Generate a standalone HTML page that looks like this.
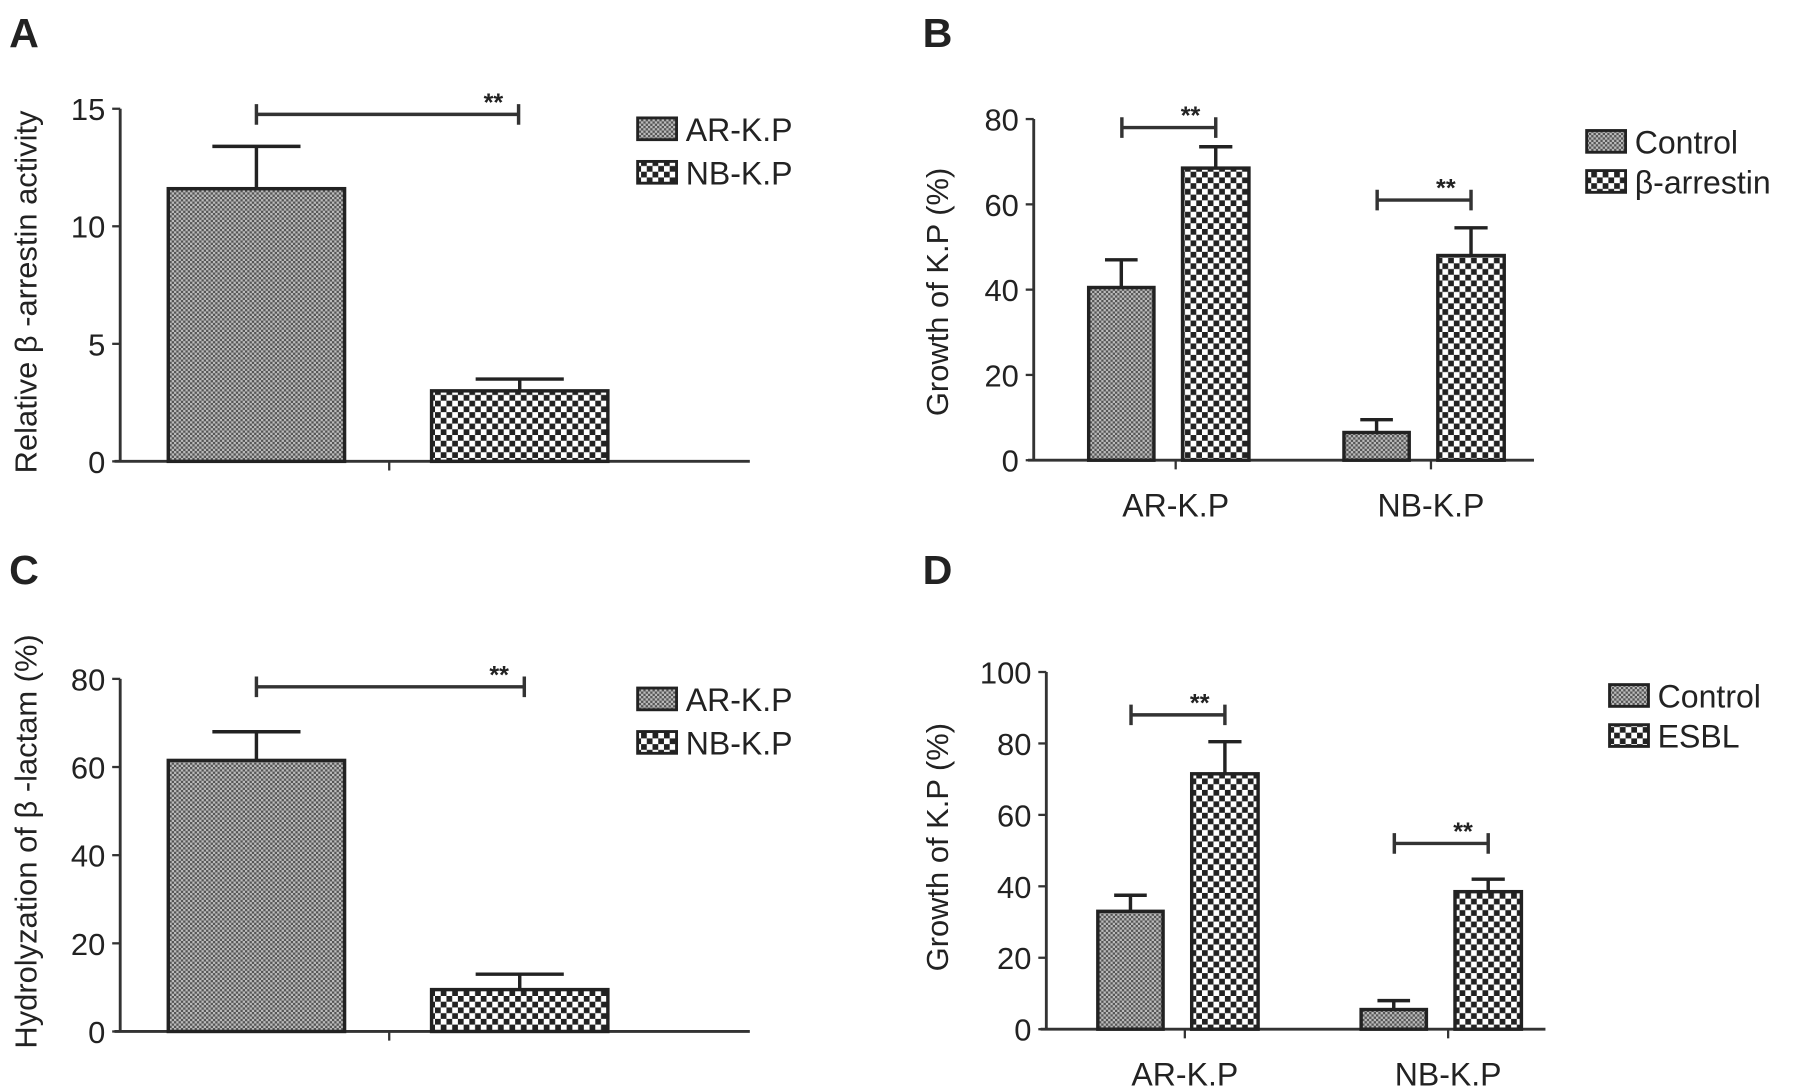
<!DOCTYPE html>
<html><head><meta charset="utf-8"><style>
html,body{margin:0;padding:0;background:#fff;}
svg{display:block;}
text{font-family:"Liberation Sans Narrow","Liberation Sans",sans-serif;fill:#222;font-weight:normal;}
text.pl{font-weight:bold;font-family:"Liberation Sans",sans-serif;}
text.st{font-weight:bold;}
</style></head><body>
<svg id="fig" width="1795" height="1087" viewBox="0 0 1568 949.5" preserveAspectRatio="none" xmlns="http://www.w3.org/2000/svg">
<defs>
<pattern id="fine" width="4" height="4" patternUnits="userSpaceOnUse"><rect width="4" height="4" fill="#bbb"/><rect width="2" height="2" fill="#555"/><rect x="2" y="2" width="2" height="2" fill="#555"/></pattern>
<pattern id="coarse" width="10" height="10" patternUnits="userSpaceOnUse"><rect width="10" height="10" fill="#fff"/><rect width="5" height="5" fill="#222"/><rect x="5" y="5" width="5" height="5" fill="#222"/></pattern>
</defs>
<text class="pl" x="8" y="41" font-size="36">A</text>
<text class="pl" x="806" y="41" font-size="36">B</text>
<text class="pl" x="8" y="510" font-size="36">C</text>
<text class="pl" x="806" y="510" font-size="36">D</text>
</svg>
<script>
const NS="http://www.w3.org/2000/svg";
const svg=document.getElementById('fig');
// Panel A data
const aSeries=["AR-K.P","NB-K.P"];
const aValues=[11.6,3.0];
const aErrors=[1.8,0.5];
const aTicks=[0,5,10,15];
// Panel B data
const bCategories=["AR-K.P","NB-K.P"];
const bSeries=["Control","β-arrestin"];
const bControl=[40.5,6.5];
const bControlErr=[6.5,3];
const bTreated=[68.5,48];
const bTreatedErr=[5,6.5];
const bSig=[78,61];
const bTicks=[0,20,40,60,80];
// Panel C data
const cSeries=["AR-K.P","NB-K.P"];
const cValues=[61.5,9.5];
const cErrors=[6.5,3.5];
const cTicks=[0,20,40,60,80];
// Panel D data
const dCategories=["AR-K.P","NB-K.P"];
const dSeries=["Control","ESBL"];
const dControl=[33,5.5];
const dControlErr=[4.5,2.5];
const dTreated=[71.5,38.5];
const dTreatedErr=[9,3.5];
const dSig=[88,52];
const dTicks=[0,20,40,60,80,100];

function el(tag,attrs,parent){const e=document.createElementNS(NS,tag);for(const k in attrs)e.setAttribute(k,attrs[k]);(parent||svg).appendChild(e);return e;}
function txt(s,attrs,parent){const e=el('text',attrs,parent);e.textContent=s;return e;}

function axes(g,P,ticks,ylabel){
  const y=v=>P.y0-(v-P.min)/(P.max-P.min)*(P.y0-P.yTop);
  const ax=el('line',{x1:P.ax,y1:P.yTop,x2:P.ax,y2:P.y0,stroke:'#333','stroke-width':2.5},g);
  
  
  const xa=el('line',{x1:P.ax-5,y1:P.y0,x2:P.xEnd,y2:P.y0,stroke:'#333','stroke-width':2.5},g);
  
  
  ticks.forEach(t=>{
    el('line',{x1:P.ax-7,y1:y(t),x2:P.ax,y2:y(t),stroke:'#333','stroke-width':2},g);
    const tl=txt(String(t),{x:P.ax-13,y:y(t)+10,'font-size':27,'text-anchor':'end'},g);
    
    
  });
  const yl=txt(ylabel,{x:0,y:0,'font-size':27,'text-anchor':'middle',transform:`translate(${P.ylx},${P.yly}) rotate(-90)`},g);
  
  
  return y;
}
function bar(g,x0,w,v,e,y,fill,name){
  const r=el('rect',{x:x0,y:y(v),width:w,height:y(0)-y(v),fill:fill,stroke:'#222','stroke-width':3},g);
  
  
  const cx=x0+w/2,cw=w*0.25;
  const eb=el('path',{d:`M${cx} ${y(v)}V${y(v+e)}M${cx-cw} ${y(v+e)}H${cx+cw}`,stroke:'#222','stroke-width':3,fill:'none'},g);
  
  
}
function sig(g,x1,x2,yy){
  const p=el('path',{d:`M${x1} ${yy-9}V${yy+9}M${x1} ${yy}H${x2}M${x2} ${yy-9}V${yy+9}`,stroke:'#333','stroke-width':3,fill:'none'},g);
  
  
  const s=txt('**',{x:x2-22,y:yy-3,'font-size':22,'text-anchor':'middle','class':'st'},g);
  
  
}
function legend(g,names,x,y0,dy){
  names.forEach((n,i)=>{
    const sw=el('rect',{x:x,y:y0+i*dy,width:34,height:19,fill:i?'url(#coarse)':'url(#fine)',stroke:'#222','stroke-width':2.5},g);
    
    
    const t=txt(n,{x:x+42,y:y0+i*dy+20,'font-size':28},g);
    
    
  });
}
function single(name,P,series,vals,errs,ticks,ylabel,legY){
  const g=el('g',{});
  
  
  const y=axes(g,P,ticks,ylabel);
  el('line',{x1:340,y1:P.y0,x2:340,y2:P.y0+8,stroke:'#333','stroke-width':2},g);
  const xs=[147,377],w=154;
  vals.forEach((v,i)=>bar(g,xs[i],w,v,errs[i],y,i?'url(#coarse)':'url(#fine)','bar-'+series[i].toLowerCase().replace(/[^a-z]+/g,'-')));
  const top=Math.max(...vals.map((v,i)=>v+errs[i]));
  sig(g,xs[0]+w/2,xs[1]+w/2+(name==='panel-c'?4:-1),y(top)-(y(top)-P.yTop)*0.85);
  legend(g,series,557,legY,38);
}
function grouped(name,P,cats,series,c,ce,t,te,sigv,ticks,ylabel,legX,legY,groupX){
  const g=el('g',{});
  
  
  const y=axes(g,P,ticks,ylabel);
  cats.forEach((cat,i)=>{
    const cx=groupX[i];
    el('line',{x1:cx,y1:P.y0,x2:cx,y2:P.y0+8,stroke:'#333','stroke-width':2},g);
    const xl=txt(cat,{x:cx,y:P.y0+49,'font-size':28,'text-anchor':'middle'},g);
    
    
    bar(g,cx-76,57,c[i],ce[i],y,'url(#fine)','bar-control-'+cat.toLowerCase().replace(/[^a-z]+/g,'-'));
    bar(g,cx+6,58,t[i],te[i],y,'url(#coarse)','bar-treated-'+cat.toLowerCase().replace(/[^a-z]+/g,'-'));
    sig(g,cx-47,cx+35,y(sigv[i]));
  });
  legend(g,series,legX,legY,35);
}
single('panel-a',{ax:105,yTop:95,y0:403,min:0,max:15,xEnd:655,ylx:32,yly:255},aSeries,aValues,aErrors,aTicks,'Relative β -arrestin activity',103);
single('panel-c',{ax:105,yTop:593,y0:901,min:0,max:80,xEnd:655,ylx:32,yly:735},cSeries,cValues,cErrors,cTicks,'Hydrolyzation of β -lactam (%)',601);
grouped('panel-b',{ax:903,yTop:104,y0:402,min:0,max:80,xEnd:1340,ylx:828,yly:255},bCategories,bSeries,bControl,bControlErr,bTreated,bTreatedErr,bSig,bTicks,'Growth of K.P (%)',1386,114,[1027,1250]);
grouped('panel-d',{ax:914,yTop:587,y0:899,min:0,max:100,xEnd:1350,ylx:828,yly:740},dCategories,dSeries,dControl,dControlErr,dTreated,dTreatedErr,dSig,dTicks,'Growth of K.P (%)',1406,598,[1035,1265]);
</script>
</body></html>
